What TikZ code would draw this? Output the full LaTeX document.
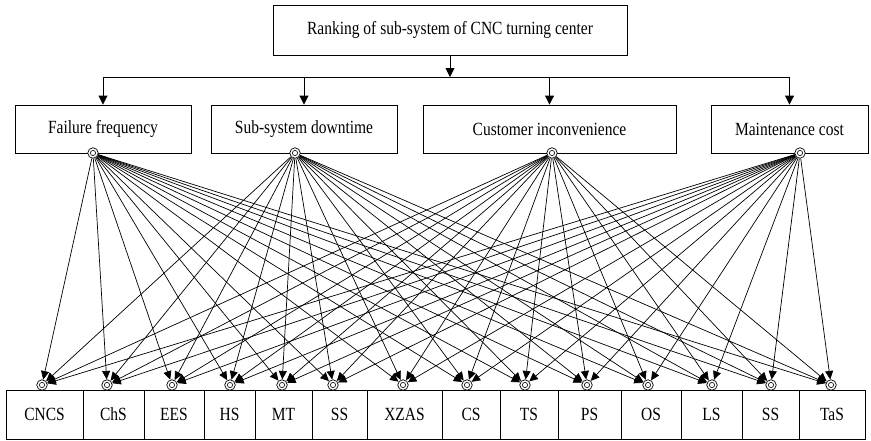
\documentclass[tikz,border=0pt]{standalone}
\usepackage{fontspec}
\usepackage{graphicx}
\setmainfont{Liberation Serif}
\usetikzlibrary{arrows.meta}
\newcommand{\stx}[1]{\scalebox{1}[1.2]{#1}}
\begin{document}
\begin{tikzpicture}[x=1pt,y=-1pt,
  box/.style={draw, line width=0.9pt, inner sep=0pt, font=\fontsize{15.5}{18}\selectfont},
  mbox/.style={box, minimum height=48},
  sbox/.style={box, minimum height=49},
  bull/.style={circle, draw, fill=white, line width=0.7pt, minimum size=10.5pt, inner sep=0pt,
    path picture={\draw[line width=0.6pt] (path picture bounding box.center) circle (2.6pt);
                  \fill (path picture bounding box.center) circle (1.1pt);}},
  conn/.style={line width=0.7pt, -{Triangle[length=8.5pt,width=8pt]}},
  arr/.style={line width=0.9pt, -{Triangle[length=9pt,width=9pt]}}
]
\useasboundingbox (0,0) rectangle (871,440);

% top
\node[box, minimum width=354, minimum height=50] (top) at (450,30) {\stx{Ranking of sub-system of CNC turning center}};

% middle
\node[mbox, minimum width=176] (m1) at (103,129) {\stx{Failure frequency}};
\node[mbox, minimum width=186] (m2) at (304,129) {\stx{Sub-system downtime}};
\node[mbox, minimum width=253] (m3) at (549.5,129) {\stx{Customer inconvenience}};
\node[mbox, minimum width=157] (m4) at (789.5,129) {\stx{Maintenance cost}};

\coordinate (hl) at (103,77);
\coordinate (hr) at (789.5,77);
\draw[arr] (top.south) -- (top.south |- hl);
\draw[line width=0.9pt] (hl) -- (hr);
\foreach \m in {m1,m2,m3,m4} \draw[arr] (\m.north |- hl) -- (\m.north);

% bottom row
\node[sbox, minimum width=77] (s1) at (44.5,414.5) {\stx{CNCS}};
\node[sbox, minimum width=61] (s2) at (113.5,414.5) {\stx{ChS}};
\node[sbox, minimum width=60] (s3) at (174,414.5) {\stx{EES}};
\node[sbox, minimum width=51] (s4) at (229.5,414.5) {\stx{HS}};
\node[sbox, minimum width=57] (s5) at (283.5,414.5) {\stx{MT}};
\node[sbox, minimum width=55] (s6) at (339.5,414.5) {\stx{SS}};
\node[sbox, minimum width=75] (s7) at (404.5,414.5) {\stx{XZAS}};
\node[sbox, minimum width=58] (s8) at (471,414.5) {\stx{CS}};
\node[sbox, minimum width=58] (s9) at (529,414.5) {\stx{TS}};
\node[sbox, minimum width=63] (s10) at (589.5,414.5) {\stx{PS}};
\node[sbox, minimum width=60] (s11) at (651,414.5) {\stx{OS}};
\node[sbox, minimum width=61] (s12) at (711.5,414.5) {\stx{LS}};
\node[sbox, minimum width=57] (s13) at (770.5,414.5) {\stx{SS}};
\node[sbox, minimum width=66] (s14) at (832,414.5) {\stx{TaS}};

% bullseye points
\node[bull] (t1) at (93,153) {};
\node[bull] (t2) at (295,153) {};
\node[bull] (t3) at (552,153) {};
\node[bull] (t4) at (800,153) {};

\foreach \x [count=\i] in {42,107,172,230,282,333,403,467,525,587,648,712,771,831}
  \node[bull] (b\i) at (\x,385) {};

\foreach \t in {t1,t2,t3,t4}
  \foreach \i in {1,...,14}
    \draw[conn] (\t) -- (b\i);
\end{tikzpicture}
\end{document}
